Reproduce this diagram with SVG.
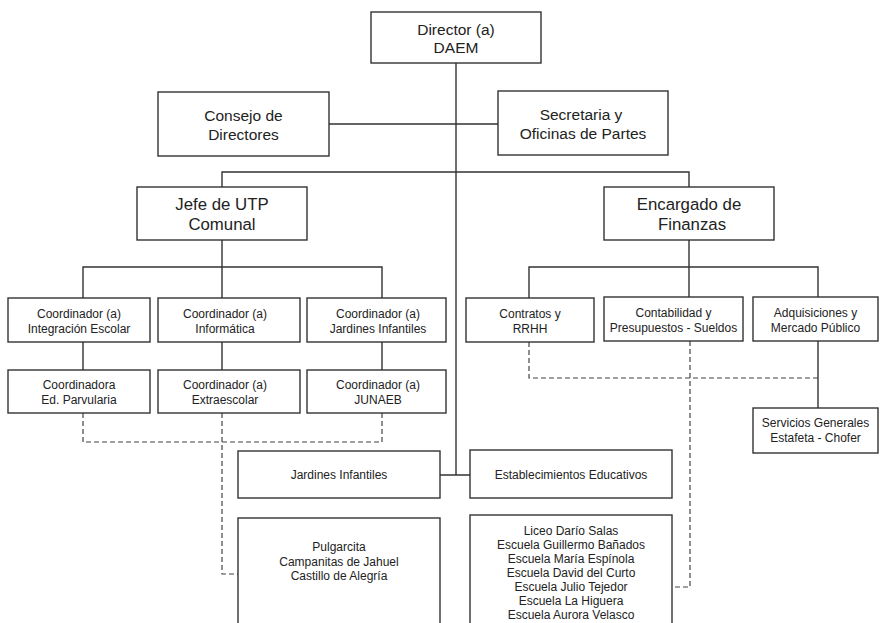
<svg xmlns="http://www.w3.org/2000/svg" width="880" height="623" viewBox="0 0 880 623">
<style>
.b{fill:#fff;stroke:#333;stroke-width:1.4}
.l{fill:none;stroke:#333;stroke-width:1.4}
.d{fill:none;stroke:#444;stroke-width:1.2;stroke-dasharray:5 3}
text{font-family:"Liberation Sans",Arial,sans-serif;fill:#222;text-anchor:middle}
.t1{font-size:15.5px}
.t2{font-size:16.8px}
.t3{font-size:12px}
</style>
<rect width="880" height="623" fill="#fff"/>
<g id="connectors">
<path class="l" d="M456 63V475M440 475H470M329 124H498M222 187V172H689V187"/>
<path class="l" d="M222 240V267M83 298V267H382V298M222 267V298M83 342V370M222 342V370M382 342V370"/>
<path class="l" d="M689 240V267M529 298V267H818V297M689 267V297M818 341V408"/>
<path class="d" d="M83 413V442H382V413M222 413V574H238"/>
<path class="d" d="M529 342V378H818M690 341V587H672"/>
</g>
<g id="director"><rect class="b" x="371" y="12" width="170" height="51"/><text class="t1" x="456" y="34.5">Director (a)</text><text class="t1" x="456" y="52.5">DAEM</text></g>
<g id="consejo"><rect class="b" x="158" y="92" width="171" height="64"/><text class="t1" x="243.5" y="120.5">Consejo de</text><text class="t1" x="243.5" y="139.5">Directores</text></g>
<g id="secretaria"><rect class="b" x="498" y="91" width="170" height="64"/><text class="t1" x="581" y="120">Secretaria y</text><text class="t1" x="583" y="139">Oficinas de Partes</text></g>
<g id="jefe"><rect class="b" x="137" y="187" width="170" height="53"/><text class="t2" x="222" y="210">Jefe de UTP</text><text class="t2" x="222" y="229.5">Comunal</text></g>
<g id="encargado"><rect class="b" x="604" y="187" width="170" height="53"/><text class="t2" x="689" y="210">Encargado de</text><text class="t2" x="692" y="229.5">Finanzas</text></g>
<g id="coord-integracion"><rect class="b" x="8" y="298" width="142" height="44"/><text class="t3" x="79" y="317.5">Coordinador (a)</text><text class="t3" x="79" y="332.5">Integración Escolar</text></g>
<g id="coord-informatica"><rect class="b" x="158" y="298" width="142" height="44"/><text class="t3" x="225" y="317.5">Coordinador (a)</text><text class="t3" x="225" y="332.5">Informática</text></g>
<g id="coord-jardines"><rect class="b" x="307" y="298" width="139" height="44"/><text class="t3" x="378" y="317.5">Coordinador (a)</text><text class="t3" x="378" y="332.5">Jardines Infantiles</text></g>
<g id="coord-parvularia"><rect class="b" x="8" y="370" width="142" height="43"/><text class="t3" x="79" y="388.5">Coordinadora</text><text class="t3" x="79" y="403.5">Ed. Parvularia</text></g>
<g id="coord-extraescolar"><rect class="b" x="158" y="370" width="142" height="43"/><text class="t3" x="225" y="388.5">Coordinador (a)</text><text class="t3" x="225" y="403.5">Extraescolar</text></g>
<g id="coord-junaeb"><rect class="b" x="307" y="370" width="139" height="43"/><text class="t3" x="378" y="388.5">Coordinador (a)</text><text class="t3" x="378" y="403.5">JUNAEB</text></g>
<g id="contratos"><rect class="b" x="466" y="298" width="128" height="44"/><text class="t3" x="530" y="317.5">Contratos y</text><text class="t3" x="530" y="332.5">RRHH</text></g>
<g id="contabilidad"><rect class="b" x="604" y="297" width="139" height="44"/><text class="t3" x="673.5" y="316.5">Contabilidad y</text><text class="t3" x="673.5" y="331.5">Presupuestos - Sueldos</text></g>
<g id="adquisiciones"><rect class="b" x="753" y="297" width="125" height="44"/><text class="t3" x="815.5" y="316.5">Adquisiciones y</text><text class="t3" x="815.5" y="331.5">Mercado Público</text></g>
<g id="servicios"><rect class="b" x="753" y="408" width="125" height="45"/><text class="t3" x="815.5" y="427">Servicios Generales</text><text class="t3" x="815.5" y="442">Estafeta - Chofer</text></g>
<g id="jardines"><rect class="b" x="238" y="451" width="202" height="47"/><text class="t3" x="339" y="479">Jardines Infantiles</text></g>
<g id="establecimientos"><rect class="b" x="470" y="450" width="202" height="48"/><text class="t3" x="571" y="479">Establecimientos Educativos</text></g>
<g id="lista-jardines"><rect class="b" x="238" y="518" width="202" height="115"/><text class="t3" x="339" y="551.3">Pulgarcita</text><text class="t3" x="339" y="565.8">Campanitas de Jahuel</text><text class="t3" x="339" y="580.3">Castillo de Alegría</text></g>
<g id="lista-establecimientos"><rect class="b" x="470" y="515" width="202" height="118"/><text class="t3" x="571" y="535.3">Liceo Darío Salas</text><text class="t3" x="571" y="549.3">Escuela Guillermo Bañados</text><text class="t3" x="571" y="563.3">Escuela María Espínola</text><text class="t3" x="571" y="577.3">Escuela David del Curto</text><text class="t3" x="571" y="591.3">Escuela Julio Tejedor</text><text class="t3" x="571" y="605.3">Escuela La Higuera</text><text class="t3" x="571" y="619.3">Escuela Aurora Velasco</text></g>
</svg>
